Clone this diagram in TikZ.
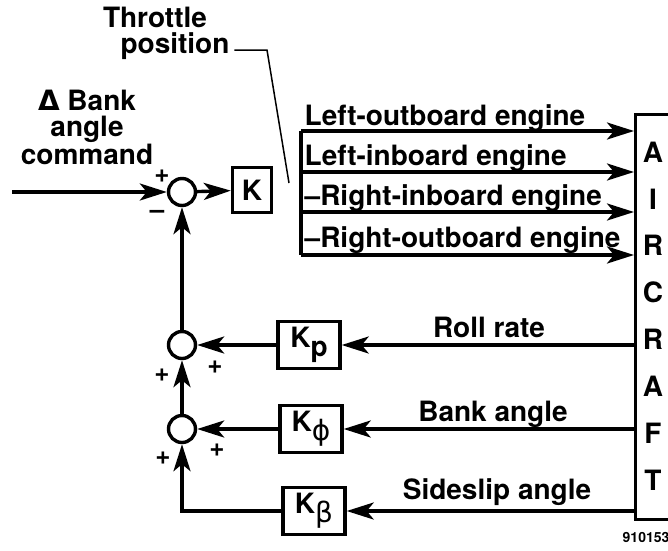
\documentclass[tikz,border=0pt]{standalone}
\usepackage{fontspec}
\setmainfont{TeX Gyre Heros}
\newfontfamily\greekfont{DejaVu Sans}
\usetikzlibrary{arrows.meta,positioning}

\begin{document}
\begin{tikzpicture}[x=1pt, y=-1pt, line width=3.4pt,
    every node/.style={font=\bfseries\fontsize{28}{26.5}\selectfont},
    sum/.style={draw, circle, minimum size=27pt, inner sep=0pt},
    gain/.style={draw, inner sep=0pt, minimum width=62pt, minimum height=47pt},
    sign/.style={font=\bfseries\fontsize{26}{26}\selectfont, inner sep=0pt},
    flow/.style={-{Stealth[length=27pt, width=17pt, inset=7pt]}},
    lead/.style={line width=1.5pt}]
                        \useasboundingbox (0,0) rectangle (668,550);
                        % summing junctions and gains
                        \node[sum] (sumA) at (182,192) {};
                        \node[sum] (sumB) at (182,345) {};
                        \node[sum] (sumC) at (182,429) {};
                        \node[gain, minimum width=39pt, minimum height=45pt] (kgain) at (252,190) {K};
                        \node[gain] (kp) at (309,345) {K\raisebox{-9pt}{p}};
                        \node[gain] (kphi) at (311,429) {K\raisebox{-9pt}{\greekfont\mdseries ϕ}};
                        \node[gain] (kbeta) at (314,511) {K\raisebox{-9pt}{\greekfont\mdseries β}};
                        % aircraft block
                        \node[draw, anchor=north west, inner sep=0pt, minimum width=60pt, minimum height=405pt] (craft) at (634,113) {};
                        \foreach \ch [count=\i from 0] in {A,I,R,C,R,A,F,T}
                            \node (ac\i) at (653, {152+46.86*\i}) {\ch};
                        % texts
                        \node[anchor=base] (thr) at (155,27) {Throttle};
                        \node[anchor=base] (pos) at (175,53) {position};
                        \node[anchor=north, align=center, inner sep=0pt] (cmd) at (87,88) {{\greekfont Δ} Bank\\angle\\command};
                        \node[anchor=base west, inner sep=0pt] (lob) at (303,125) {Left-outboard engine};
                        \node[anchor=base west, inner sep=0pt] (lib) at (303,165) {Left-inboard engine};
                        \node[anchor=base west, inner sep=0pt] (rib) at (303,205) {--Right-inboard engine};
                        \node[anchor=base west, inner sep=0pt] (rob) at (303,247) {--Right-outboard engine};
                        \node[anchor=base] (roll) at (489,337) {Roll rate};
                        \node[anchor=base] (bank) at (493,421) {Bank angle};
                        \node[anchor=base] (slip) at (497,499) {Sideslip angle};
                        \node[anchor=base west, inner sep=0pt, font=\bfseries\fontsize{14}{14}\selectfont] (num) at (621,542) {910153};
                        % signs
                        \node[sign] (pA) at (162,176) {+};
                        \node[sign] (mA) at (157,214) {--};
                        \node[sign] (pB1) at (162,375) {+};
                        \node[sign] (pB2) at (215,367) {+};
                        \node[sign] (pC1) at (163,458) {+};
                        \node[sign] (pC2) at (217,450) {+};
                        % engine commands
                        \coordinate (inp) at (12,192);
                        \coordinate (engA) at (301,131);
                        \coordinate (engB) at (301,172);
                        \coordinate (engC) at (301,212);
                        \coordinate (engD) at (301,255);
                        \coordinate (tbend) at (267,50);
                        \coordinate (ttip) at (289,183);
                        \draw (engA) -- (engD);
                        \foreach \e in {engA,engB,engC,engD}
                            \draw[flow] (\e) -- (\e -| craft.west);
                        \draw[lead] (pos.east |- tbend) -- (tbend) -- (ttip);
                        % loop
                        \draw[flow] (inp) -- (sumA);
                        \draw[flow] (sumA) -- (kgain);
                        \draw[flow] (sumB) -- (sumA);
                        \draw[flow] (sumC) -- (sumB);
                        \draw[flow] (kbeta) -| (sumC);
                        \draw[flow] (kp) -- (sumB);
                        \draw[flow] (kphi) -- (sumC);
                        \draw[flow] (craft.west |- kp) -- (kp);
                        \draw[flow] (craft.west |- kphi) -- (kphi);
                        \draw[flow] (craft.west |- kbeta) -- (kbeta);
                    \end{tikzpicture}
\end{document}
